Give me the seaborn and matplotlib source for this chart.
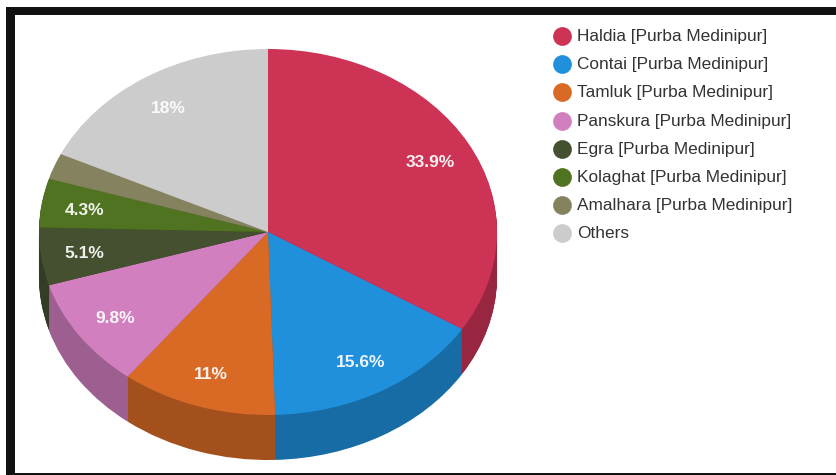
import matplotlib
matplotlib.use("Agg")
import matplotlib.pyplot as plt
from matplotlib.patches import Rectangle
from matplotlib.colors import to_rgb
import numpy as np
import seaborn as sns

sns.set_theme(style="white")
plt.rcParams['font.family'] = ['Liberation Sans', 'DejaVu Sans']

W, H = 836, 475
categories = ["Haldia [Purba Medinipur]", "Contai [Purba Medinipur]", "Tamluk [Purba Medinipur]",
              "Panskura [Purba Medinipur]", "Egra [Purba Medinipur]", "Kolaghat [Purba Medinipur]",
              "Amalhara [Purba Medinipur]", "Others"]
values = [33.9, 15.6, 11, 9.8, 5.1, 4.3, 2.3, 18]
labels = ["33.9%", "15.6%", "11%", "9.8%", "5.1%", "4.3%", "", "18%"]
colors = ["#CC3355", "#2090DC", "#D96A26", "#D17FBE", "#445030", "#4F7320", "#85835F", "#CCCCCC"]

fig = plt.figure(figsize=(W / 100, H / 100), dpi=100, facecolor="white")
bg = fig.add_axes([0, 0, 1, 1])
bg.set_xlim(0, W); bg.set_ylim(H, 0); bg.axis("off")
bg.add_patch(Rectangle((6, 7), W - 6, H - 7, fc="#111111", ec="none"))
bg.add_patch(Rectangle((14.5, 14.5), W - 14.5, H - 14.5 - 2, fc="white", ec="none"))

# pie axes: unit circle stretched to an ellipse (pixel box of the top face)
cx, cy, rx, ry, depth = 268, 232, 229, 183, 45
ax = fig.add_axes([(cx - rx) / W, 1 - (cy + ry + depth) / H, 2 * rx / W, (2 * ry + depth) / H])
ax.patch.set_alpha(0)
dark = [tuple(c * 0.75 for c in to_rgb(col)) for col in colors]
dy = 1 / ry
for k in range(depth, 0, -1):
    ax.pie(values, colors=dark, startangle=90, counterclock=False, center=(0, -k * dy),
           wedgeprops=dict(linewidth=0), frame=True)
wedges, _ = ax.pie(values, colors=colors, startangle=90, counterclock=False,
                   wedgeprops=dict(linewidth=0), frame=True)
ax.set_aspect("auto")
ax.set_xlim(-1, 1)
ax.set_ylim(-1 - depth * dy, 1)
ax.axis("off")

cum = np.cumsum([0] + values[:-1])
for v, c, lab in zip(values, cum, labels):
    if not lab:
        continue
    a = np.deg2rad(90 - (c + v / 2) * 3.6)
    ax.text(0.81 * np.cos(a), 0.81 * np.sin(a) - 2 * dy, lab, color="white", fontsize=12.5,
            ha="center", va="center", fontweight="bold", alpha=0.92)

# legend
for i, (name, col) in enumerate(zip(categories, colors)):
    y = 36 + i * 28.2
    bg.plot([562], [y], marker="o", ms=13.5, mfc=col, mec="none", ls="none")
    bg.text(577, y + 0.5, name, fontsize=12.4, color="#333333", va="center", ha="left")

fig.savefig("out.png", dpi=100, facecolor="white")
